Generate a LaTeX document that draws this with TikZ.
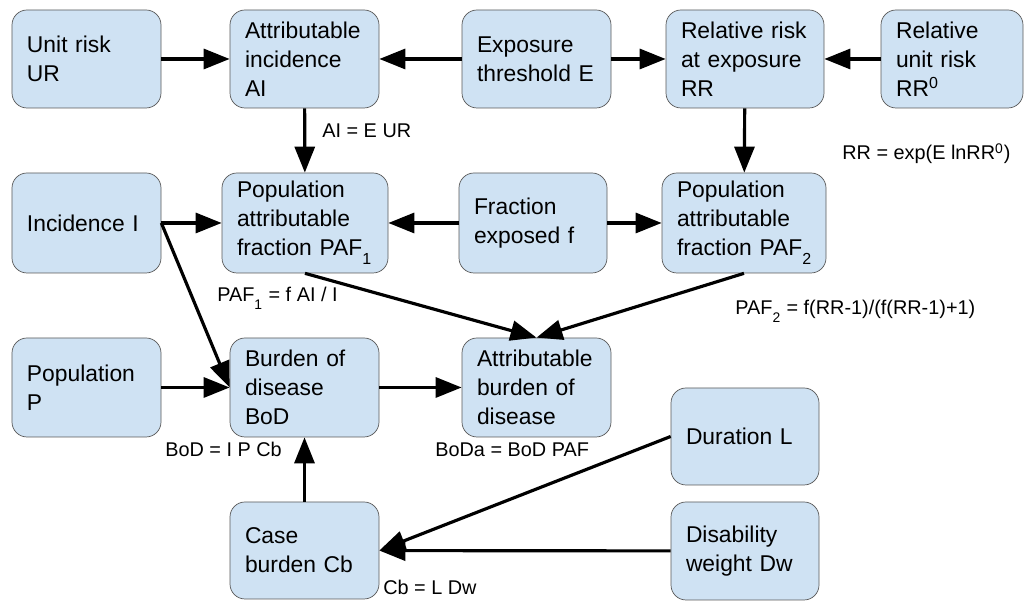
\documentclass[tikz,border=0pt]{standalone}
\usepackage{fontspec}
\setmainfont{Liberation Sans}
\usetikzlibrary{arrows.meta}
\definecolor{boxblue}{HTML}{CFE2F3}
\newcommand{\lowsub}[1]{\raisebox{-0.45ex}{\textsubscript{#1}}}

\begin{document}
\begin{tikzpicture}[
  box/.style={draw=black!65, fill=boxblue, rounded corners=0.3cm, align=left,
    inner xsep=0.3cm, inner ysep=0pt, minimum height=1.96cm, text width=2.38cm,
    font=\fontsize{13}{16.5}\selectfont},
  arr/.style={-{Triangle[length=0.52cm,width=0.4cm]}, line width=1.8pt},
  lbl/.style={anchor=base west, inner sep=0pt, font=\fontsize{11.3}{13}\selectfont}]
\useasboundingbox (0,0) rectangle (20.6,12.02);
\draw (1.73,10.84) node[box](ur) {Unit risk\\UR};
\draw (6.09,10.84) node[box](ai) {Attributable\\incidence\\AI};
\draw (10.73,10.84) node[box](expo) {Exposure\\threshold E};
\draw (14.90,10.84) node[box,text width=2.56cm](rr) {Relative risk\\at exposure\\RR};
\draw (19.04,10.84) node[box,text width=2.24cm](rrnull) {Relative\\unit risk\\RR\textsuperscript{0}};
\draw (1.73,7.56) node[box,minimum height=2cm](inc) {Incidence I};
\draw (6.10,7.56) node[box,minimum height=2cm,text width=2.72cm](pafone) {Population\\attributable\\\mbox{fraction PAF\lowsub{1}}};
\draw (10.66,7.56) node[box,minimum height=2cm,text width=2.36cm](frac) {Fraction\\exposed f};
\draw (14.88,7.56) node[box,minimum height=2cm,text width=2.68cm](paftwo) {Population\\attributable\\\mbox{fraction PAF\lowsub{2}}};
\draw (1.73,4.27) node[box,minimum height=1.98cm](pop) {Population\\P};
\draw (6.09,4.27) node[box,minimum height=1.98cm](bod) {Burden of\\disease\\BoD};
\draw (10.73,4.27) node[box,minimum height=1.98cm](boda) {Attributable\\burden of\\disease};
\draw (14.90,3.29) node[box,minimum height=1.94cm,text width=2.36cm](dur) {Duration L};
\draw (14.90,1.00) node[box,text width=2.36cm](dis) {Disability\\weight Dw};
\draw (6.09,1.01) node[box,minimum height=1.94cm](cb) {Case\\burden Cb};
\draw (6.44,9.26) node[lbl](lai) {AI = E UR};
\draw (16.84,8.82) node[lbl](lrr) {RR = exp(E lnRR\textsuperscript{0})};
\draw (4.34,5.98) node[lbl](lpafone) {PAF\lowsub{1} = f AI / I};
\draw (14.70,5.72) node[lbl](lpaftwo) {PAF\lowsub{2} = f(RR-1)/(f(RR-1)+1)};
\draw (3.30,2.88) node[lbl](lbod) {BoD = I P Cb};
\draw (8.70,2.88) node[lbl](lboda) {BoDa = BoD PAF};
\draw (7.66,0.12) node[lbl](lcb) {Cb = L Dw};
\draw[arr] (ur) -- (ai);
\draw[arr] (expo) -- (ai);
\draw[arr] (expo) -- (rr);
\draw[arr] (rrnull) -- (rr);
\draw[arr] (ai) -- (pafone);
\draw[arr] (rr) -- (paftwo);
\draw[arr] (inc) -- (pafone);
\draw[arr] (frac) -- (pafone);
\draw[arr] (frac) -- (paftwo);
\draw[arr] (inc.east) -- (bod.west);
\draw[arr] (pafone.south) -- (boda.north);
\draw[arr] (paftwo.south) -- (boda.north);
\draw[arr] (pop) -- (bod);
\draw[arr] (bod) -- (boda);
\draw[arr] (cb) -- (bod);
\draw[arr] (dur.west) -- (cb.east);
\draw[arr] (dis) -- (cb);
\end{tikzpicture}
\end{document}
